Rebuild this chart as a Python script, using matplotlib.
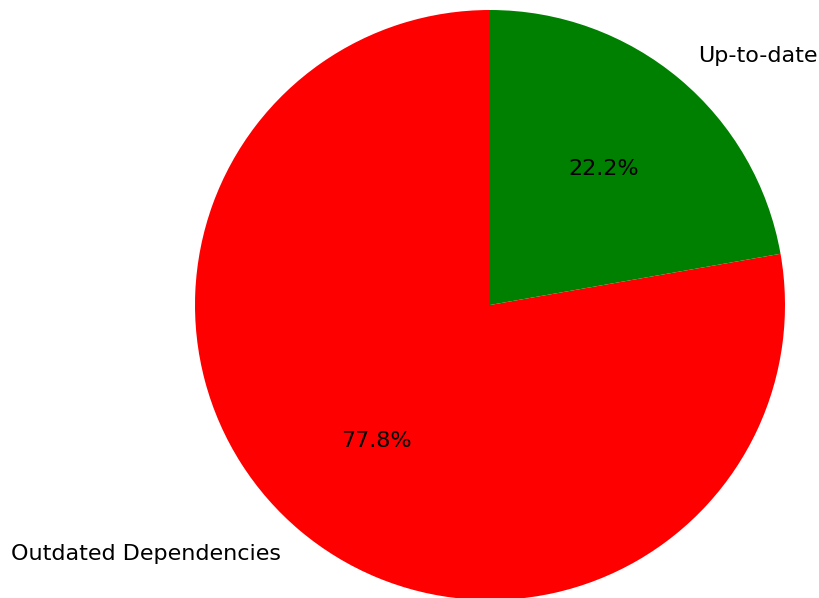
import matplotlib
matplotlib.use("Agg")
import matplotlib.pyplot as plt

labels = ["Outdated Dependencies", "Up-to-date"]
counts = [7, 2]
colors = ["red", "green"]

fig = plt.figure(figsize=(8.19, 5.98), dpi=100)
ax = fig.add_axes([0, 0, 1, 1])

ax.pie(counts, labels=labels, colors=colors, autopct="%1.1f%%",
       startangle=90, textprops={"fontsize": 16})

# place the pie like the original (centre ~ (490, 305) px, radius ~ 295 px)
scale = 295.0
ax.set_xlim(-490 / scale, (819 - 490) / scale)
ax.set_ylim(-(598 - 305) / scale, 305 / scale)
ax.set_aspect("equal")
ax.axis("off")

fig.savefig("out.png", dpi=100)
